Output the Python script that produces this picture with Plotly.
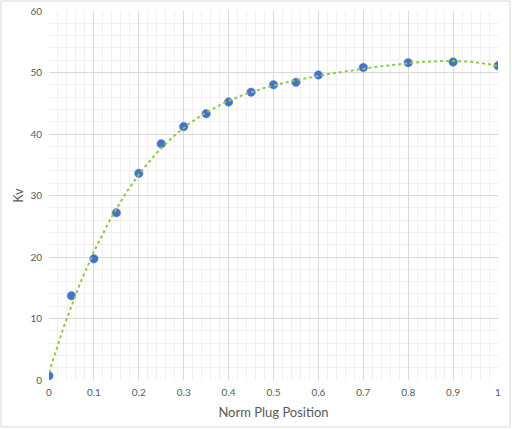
import plotly.graph_objects as go
import numpy as np

# measured points
plug_pos = [0, 0.05, 0.1, 0.15, 0.2, 0.25, 0.3, 0.35, 0.4, 0.45, 0.5, 0.55, 0.6, 0.7, 0.8, 0.9, 1.0]
kv = [0.7, 13.7, 19.7, 27.2, 33.6, 38.4, 41.2, 43.3, 45.2, 46.8, 48.0, 48.4, 49.6, 50.8, 51.6, 51.7, 51.1]

x_ticks = [0, 0.1, 0.2, 0.3, 0.4, 0.5, 0.6, 0.7, 0.8, 0.9, 1]
y_ticks = [0, 10, 20, 30, 40, 50, 60]

# polynomial trendline (like excel)
coef = np.polyfit(plug_pos, kv, 4)
xs = np.linspace(0, 1, 200)
ys = np.polyval(coef, xs)

fig = go.Figure()

fig.add_trace(go.Scatter(
    x=plug_pos, y=kv, mode="markers",
    marker=dict(color="#4472C4", size=8.5, line=dict(color="#5b86d0", width=0.5)),
    showlegend=False))

fig.add_trace(go.Scatter(
    x=xs, y=ys, mode="lines",
    line=dict(color="#92C84A", width=2, dash="dot"),
    showlegend=False))

grid = "#D9D9D9"

fig.update_xaxes(
    range=[0, 1], tickvals=x_ticks, ticktext=[f"{t:g}" for t in x_ticks],
    showgrid=True, gridcolor=grid, gridwidth=1, zeroline=False,
    showline=False, ticks="", ticklabelstandoff=5, automargin=False,
    minor=dict(dtick=0.02, showgrid=True, gridcolor="#F0F0F0", gridwidth=1),
    tickfont=dict(size=10, color="#595959"),
    title=dict(text="Norm Plug Position", font=dict(size=13, color="#595959"), standoff=10))

fig.update_yaxes(
    range=[0, 60], tickvals=y_ticks,
    showgrid=True, gridcolor=grid, gridwidth=1, zeroline=False,
    showline=False, ticks="", ticklabelstandoff=6, automargin=False,
    minor=dict(dtick=2, showgrid=True, gridcolor="#F0F0F0", gridwidth=1),
    tickfont=dict(size=10, color="#595959"),
    title=dict(text="Kv", font=dict(size=13, color="#595959"), standoff=3))

# outer chart border
fig.add_shape(type="rect", xref="paper", yref="paper",
              x0=-0.1069, x1=1.0267, y0=-0.127, y1=1.027,
              line=dict(color="#D9D9D9", width=1), layer="below")

fig.update_layout(
    width=512, height=429,
    margin=dict(l=49, r=14, t=11, b=49),
    plot_bgcolor="white", paper_bgcolor="white",
    font=dict(family="Lato, Carlito, Calibri, sans-serif"),
)

fig.write_html("out.html", config={"displayModeBar": False},
               post_script="document.body.style.margin='0';")
